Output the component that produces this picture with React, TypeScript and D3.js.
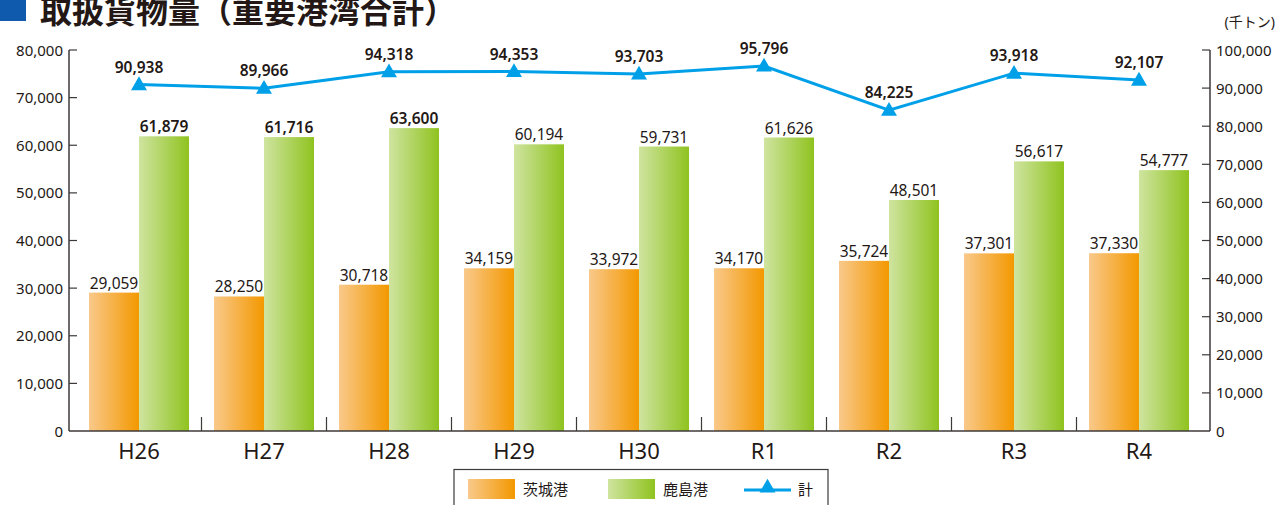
import React from "react";
import * as d3 from "d3";

const categories = ["H26", "H27", "H28", "H29", "H30", "R1", "R2", "R3", "R4"];
const ibaraki = [29059, 28250, 30718, 34159, 33972, 34170, 35724, 37301, 37330];
const kashima = [61879, 61716, 63600, 60194, 59731, 61626, 48501, 56617, 54777];
const total = [90938, 89966, 94318, 94353, 93703, 95796, 84225, 93918, 92107];
const boldKashima = [true, true, true, false, false, false, false, false, false];
const leftTicks = [0, 10000, 20000, 30000, 40000, 50000, 60000, 70000, 80000];
const rightTicks = [0, 10000, 20000, 30000, 40000, 50000, 60000, 70000, 80000, 90000, 100000];

const W = 1277;
const H = 505;
const FONT = "'Noto Sans', 'Noto Sans CJK JP', sans-serif";
const TXT = "#231815";
const AX = "#3e3a39";

export default function App() {
  const x = d3.scaleBand<string>().domain(categories).range([76.5, 1201.5]).padding(0);
  const yL = d3.scaleLinear().domain([0, 80000]).range([431, 50]);
  const yR = d3.scaleLinear().domain([0, 100000]).range([431, 50]);
  const fmt = d3.format(",");
  const bw = x.bandwidth() * 0.4;
  const cx = (c: string) => (x(c) as number) + x.bandwidth() / 2;
  const line = d3
    .line<number>()
    .x((_, i) => cx(categories[i]))
    .y((d) => yR(d));
  const tri = d3.symbol().type(d3.symbolTriangle).size(110)();

  return (
    <svg
      width={W}
      height={H}
      style={{ position: "absolute", left: 0, top: 0, fontFamily: FONT }}
    >
      <defs>
        <linearGradient id="gOr" x1="0" x2="1" y1="0" y2="0">
          <stop offset="0" stopColor="#f9c98b" />
          <stop offset="1" stopColor="#f39800" />
        </linearGradient>
        <linearGradient id="gGr" x1="0" x2="1" y1="0" y2="0">
          <stop offset="0" stopColor="#cfe4a0" />
          <stop offset="1" stopColor="#8fc31f" />
        </linearGradient>
      </defs>
      <rect width={W} height={H} fill="#fff" />
      {/* title */}
      <rect x={0} y={-2} width={26} height={23} fill="#0f5aad" />
      <text x={40} y={23} fontSize={32} fontWeight={700} fill={TXT}>
        取扱貨物量（重要港湾合計）
      </text>
      <text x={1275} y={27} fontSize={14} fill={TXT} textAnchor="end">
        (千トン)
      </text>

      {/* bars */}
      {categories.map((c, i) => {
        const c0 = cx(c);
        return (
          <g key={c}>
            <rect x={c0 - bw} y={yL(ibaraki[i])} width={bw} height={431 - yL(ibaraki[i])} fill="url(#gOr)" />
            <rect x={c0} y={yL(kashima[i])} width={bw} height={431 - yL(kashima[i])} fill="url(#gGr)" />
            <text x={c0 - bw / 2} y={yL(ibaraki[i]) - 4} fontSize={15.5} textAnchor="middle" fill={TXT}>
              {fmt(ibaraki[i])}
            </text>
            <text
              x={c0 + bw / 2}
              y={yL(kashima[i]) - 4}
              fontSize={15.5}
              textAnchor="middle"
              fill={TXT}
              fontWeight={boldKashima[i] ? 600 : 400}
            >
              {fmt(kashima[i])}
            </text>
          </g>
        );
      })}

      {/* axes */}
      <line x1={69} x2={69} y1={50} y2={431} stroke={AX} strokeWidth={1.5} />
      <line x1={1210} x2={1210} y1={50} y2={431} stroke={AX} strokeWidth={1.5} />
      <line x1={69} x2={1210} y1={431} y2={431} stroke={AX} strokeWidth={1.5} />
      {leftTicks.map((t) => (
        <g key={"l" + t}>
          {t > 0 && <line x1={69} x2={77} y1={yL(t)} y2={yL(t)} stroke={AX} strokeWidth={1.2} />}
          <text x={63} y={yL(t) + 5.5} fontSize={15} textAnchor="end" fill={TXT}>
            {fmt(t)}
          </text>
        </g>
      ))}
      {rightTicks.map((t) => (
        <g key={"r" + t}>
          {t > 0 && <line x1={1202} x2={1210} y1={yR(t)} y2={yR(t)} stroke={AX} strokeWidth={1.2} />}
          <text x={1216} y={yR(t) + 5.5} fontSize={15} textAnchor="start" fill={TXT}>
            {fmt(t)}
          </text>
        </g>
      ))}
      {categories.slice(1).map((c) => (
        <line key={"s" + c} x1={x(c) as number} x2={x(c) as number} y1={417} y2={431} stroke={AX} strokeWidth={1.2} />
      ))}
      {categories.map((c) => (
        <text key={"c" + c} x={cx(c)} y={459} fontSize={22} textAnchor="middle" fill={TXT}>
          {c}
        </text>
      ))}

      {/* total line */}
      <path d={line(total) || ""} fill="none" stroke="#00a0e9" strokeWidth={3} />
      {total.map((v, i) => (
        <g key={"t" + i}>
          <path d={tri || ""} transform={`translate(${cx(categories[i])},${yR(v) + 1})`} fill="#00a0e9" />
          <text x={cx(categories[i])} y={yR(v) - 12} fontSize={15.5} fontWeight={600} textAnchor="middle" fill={TXT}>
            {fmt(v)}
          </text>
        </g>
      ))}

      {/* legend */}
      <rect x={454} y={469.5} width={374} height={40} fill="#fff" stroke={AX} strokeWidth={1.2} />
      <rect x={468} y={479} width={47} height={20} fill="url(#gOr)" />
      <text x={523} y={495} fontSize={15} fill={TXT}>
        茨城港
      </text>
      <rect x={608} y={479} width={47} height={20} fill="url(#gGr)" />
      <text x={663} y={495} fontSize={15} fill={TXT}>
        鹿島港
      </text>
      <line x1={744} x2={791} y1={490} y2={490} stroke="#00a0e9" strokeWidth={3} />
      <path d={tri || ""} transform="translate(767.5,488)" fill="#00a0e9" />
      <text x={798} y={495} fontSize={15} fill={TXT}>
        計
      </text>
    </svg>
  );
}
